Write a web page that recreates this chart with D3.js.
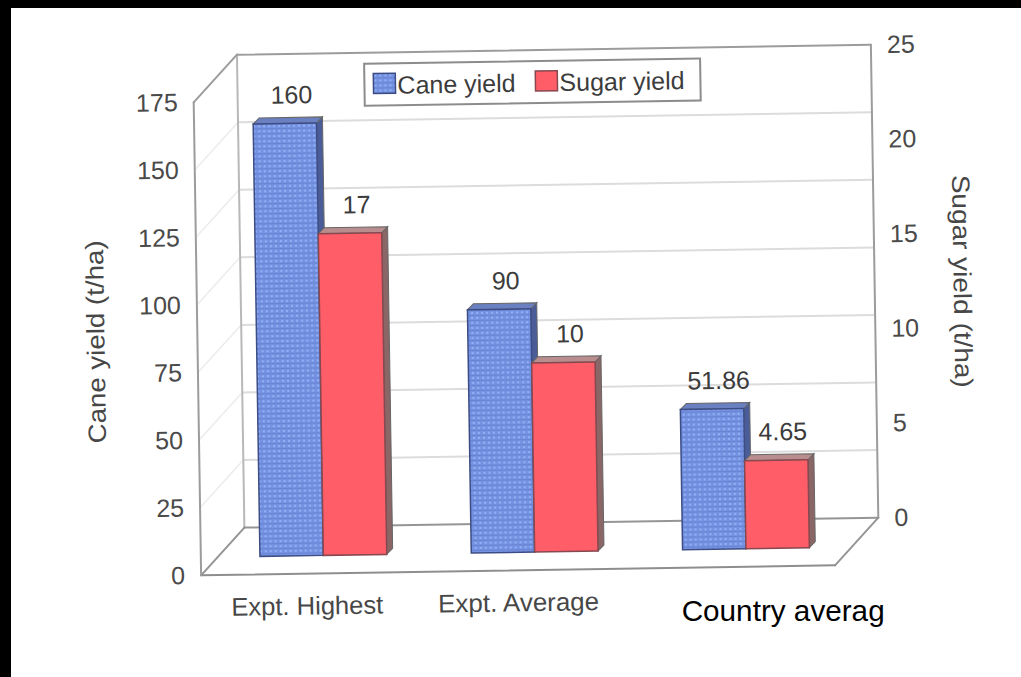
<!DOCTYPE html>
<html>
<head>
<meta charset="utf-8">
<script src="https://cdn.jsdelivr.net/npm/d3@7"></script>
<style>
  html, body { margin: 0; padding: 0; background: #fff; }
  svg { display: block; }
  text { font-family: "Liberation Sans", Arial, sans-serif; }
</style>
</head>
<body>
<svg id="chart" width="1021" height="677"></svg>
<script>
// ---- data ----
const categories = ["Expt. Highest", "Expt. Average", "Country averag"];
const seriesNames = ["Cane yield", "Sugar yield"];
const caneYield = [160, 90, 51.86];
const sugarYield = [17, 10, 4.65];
const caneTicks = [0, 25, 50, 75, 100, 125, 150, 175];
const sugarTicks = [0, 5, 10, 15, 20, 25];
const leftTitle = "Cane yield (t/ha)";
const rightTitle = "Sugar yield (t/ha)";

// ---- layout ----
const W = 1021, H = 677;
const svg = d3.select("#chart");

// heavy black frame on the top and left edges
svg.append("rect").attr("x", 0).attr("y", 0).attr("width", W).attr("height", 8).attr("fill", "#000");
svg.append("rect").attr("x", 0).attr("y", 0).attr("width", 11).attr("height", H).attr("fill", "#000");

const defs = svg.append("defs");
const pat = defs.append("pattern").attr("id", "caneFill")
  .attr("patternUnits", "userSpaceOnUse").attr("width", 5).attr("height", 5);
pat.append("rect").attr("width", 5).attr("height", 5).attr("fill", "#7592e2");
pat.append("rect").attr("x", 1).attr("y", 1).attr("width", 2).attr("height", 2).attr("fill", "#90b0f4");
pat.append("rect").attr("x", 0).attr("y", 4).attr("width", 5).attr("height", 1).attr("fill", "#6883d2");

// the whole 3-D box sits slightly tilted
const g = svg.append("g").attr("transform", "rotate(-0.9,537,310)");

const D = { dx: 44, dy: -47 };                       // floor depth vector
const F = { left: 197, right: 831, top: 97, bottom: 570 };  // front plane
const B = { left: F.left + D.dx, right: F.right + D.dx, top: F.top + D.dy, bottom: F.bottom + D.dy };

const yCane = d3.scaleLinear().domain([0, 175]).range([F.bottom, F.top]);
const ySugar = d3.scaleLinear().domain([0, 25]).range([F.bottom, F.top]);
const ySugarBack = d3.scaleLinear().domain([0, 25]).range([B.bottom, B.top]);
const x0 = d3.scaleBand().domain(categories).range([F.left, F.right]);
const x1 = d3.scaleBand().domain(seriesNames)
  .range([x0.bandwidth() * 0.2, x0.bandwidth() * 0.8]);

// walls and floor
const poly = pts => pts.map(p => p.join(",")).join(" ");
g.append("polygon").attr("points", poly([[B.left, B.top], [B.right, B.top], [B.right, B.bottom], [B.left, B.bottom]])).attr("fill", "#fff");
g.append("polygon").attr("points", poly([[F.left, F.top], [B.left, B.top], [B.left, B.bottom], [F.left, F.bottom]])).attr("fill", "#fff");
g.append("polygon").attr("points", poly([[F.left, F.bottom], [F.right, F.bottom], [B.right, B.bottom], [B.left, B.bottom]])).attr("fill", "#fff");

// gridlines on the back wall and the left wall
const inner = caneTicks.filter(v => v > 0 && v < 175);
g.selectAll("line.side-grid").data(inner).join("line").attr("class", "side-grid")
  .attr("x1", F.left).attr("y1", d => yCane(d))
  .attr("x2", B.left).attr("y2", d => yCane(d) + D.dy)
  .attr("stroke", "#ececec").attr("stroke-width", 1.5);
g.selectAll("line.back-grid").data(inner).join("line").attr("class", "back-grid")
  .attr("x1", B.left).attr("y1", d => yCane(d) + D.dy)
  .attr("x2", B.right).attr("y2", d => yCane(d) + D.dy)
  .attr("stroke", "#dcdcdc").attr("stroke-width", 2);

// box edges
const edges = [
  [[B.left, B.top], [B.left, B.bottom], "#b8b8b8"],
  [[F.left, F.top], [B.left, B.top], "#9c9c9c"],
  [[B.left, B.top], [B.right, B.top], "#9c9c9c"],
  [[B.right, B.top], [B.right, B.bottom], "#9c9c9c"],
  [[B.left, B.bottom], [B.right, B.bottom], "#959595"],
  [[F.left, F.bottom], [B.left, B.bottom], "#959595"],
  [[F.right, F.bottom], [B.right, B.bottom], "#959595"],
  [[F.left, F.bottom], [F.right, F.bottom], "#8e8e8e"],
  [[F.left, F.top], [F.left, F.bottom], "#9c9c9c"]
];
g.selectAll("line.edge").data(edges).join("line").attr("class", "edge")
  .attr("x1", d => d[0][0]).attr("y1", d => d[0][1])
  .attr("x2", d => d[1][0]).attr("y2", d => d[1][1])
  .attr("stroke", d => d[2]).attr("stroke-width", 2).attr("stroke-linecap", "round");

// axes
const axisL = g.append("g").attr("transform", `translate(${F.left},0)`)
  .call(d3.axisLeft(yCane).tickValues(caneTicks).tickSize(0).tickPadding(16));
const axisR = g.append("g").attr("transform", `translate(${B.right},0)`)
  .call(d3.axisRight(ySugarBack).tickValues(sugarTicks).tickSize(0).tickPadding(16));
[axisL, axisR].forEach(a => {
  a.select(".domain").remove();
  a.attr("font-size", null).attr("font-family", null);
  a.selectAll("text").attr("font-size", 25).attr("fill", "#4a4a4a");
});

// bars
const fb = 0.383;                 // position of the bar row inside the floor depth
const bd = { dx: 6, dy: -6 };     // bar thickness
const style = {
  "Cane yield": { front: "url(#caneFill)", top: "#6a80c0", side: "#4b5d99", stroke: "#3c4c84" },
  "Sugar yield": { front: "#ff5e69", top: "#b98d8d", side: "#8a6666", stroke: "#87484f" }
};
const bars = categories.flatMap((c, i) => [
  { cat: c, key: "Cane yield", value: caneYield[i], y: yCane },
  { cat: c, key: "Sugar yield", value: sugarYield[i], y: ySugar }
]).map(d => {
  const xl = x0(d.cat) + x1(d.key) + fb * D.dx;
  const xr = xl + x1.bandwidth();
  const yt = d.y(d.value) + fb * D.dy;
  const yb = d.y(0) + fb * D.dy;
  return Object.assign(d, { xl, xr, yt, yb });
});

const bg = g.selectAll("g.bar").data(bars).join("g").attr("class", "bar");
bg.append("polygon")
  .attr("points", d => poly([[d.xr, d.yt], [d.xr + bd.dx, d.yt + bd.dy], [d.xr + bd.dx, d.yb + bd.dy], [d.xr, d.yb]]))
  .attr("fill", d => style[d.key].side).attr("stroke", "#666").attr("stroke-width", 1);
bg.append("polygon")
  .attr("points", d => poly([[d.xl, d.yt], [d.xr, d.yt], [d.xr + bd.dx, d.yt + bd.dy], [d.xl + bd.dx, d.yt + bd.dy]]))
  .attr("fill", d => style[d.key].top).attr("stroke", "#666").attr("stroke-width", 1);
bg.append("rect")
  .attr("x", d => d.xl).attr("y", d => d.yt)
  .attr("width", d => d.xr - d.xl).attr("height", d => d.yb - d.yt)
  .attr("fill", d => style[d.key].front)
  .attr("stroke", d => style[d.key].stroke).attr("stroke-width", 1.5);

// value labels
g.selectAll("text.val").data(bars).join("text").attr("class", "val")
  .attr("x", d => (d.xl + d.xr) / 2 + bd.dx + 1)
  .attr("y", d => d.yt - 20)
  .attr("text-anchor", "middle").attr("font-size", 25).attr("fill", "#3c3c3c")
  .text(d => String(d.value));

// category labels
const catLen = { "Expt. Highest": 152, "Expt. Average": 161 };
g.selectAll("text.cat").data(categories.slice(0, 2)).join("text").attr("class", "cat")
  .attr("x", d => x0(d) + x0.bandwidth() / 2)
  .attr("y", 611)
  .attr("text-anchor", "middle").attr("font-size", 25.5).attr("fill", "#474747")
  .attr("textLength", d => catLen[d]).attr("lengthAdjust", "spacingAndGlyphs")
  .text(d => d);
const lastCat = categories[categories.length - 1];
svg.append("text")
  .attr("x", x0(lastCat) + 62).attr("y", 621)
  .attr("font-size", 29).attr("fill", "#000")
  .attr("textLength", 203).attr("lengthAdjust", "spacingAndGlyphs")
  .text(lastCat);

// axis titles
g.append("text")
  .attr("transform", "translate(104,335) rotate(-90)")
  .attr("text-anchor", "middle").attr("font-size", 25).attr("fill", "#474747")
  .attr("textLength", 203).attr("lengthAdjust", "spacingAndGlyphs")
  .text(leftTitle);
g.append("text")
  .attr("transform", "translate(954,288) rotate(90)")
  .attr("text-anchor", "middle").attr("font-size", 25).attr("fill", "#474747")
  .attr("textLength", 213).attr("lengthAdjust", "spacingAndGlyphs")
  .text(rightTitle);

// legend
const lg = g.append("g").attr("transform", "translate(368,61)");
lg.append("rect").attr("width", 336).attr("height", 42)
  .attr("fill", "#fff").attr("stroke", "#8c8c8c").attr("stroke-width", 2);
const items = lg.selectAll("g.item").data(seriesNames).join("g").attr("class", "item")
  .attr("transform", (d, i) => `translate(${9 + i * 162},0)`);
items.append("rect").attr("x", 0).attr("y", 10).attr("width", 22).attr("height", 20)
  .attr("fill", d => style[d].front).attr("stroke", d => style[d].stroke).attr("stroke-width", 1.5);
items.append("text").attr("x", 24).attr("y", 30.5)
  .attr("font-size", 25).attr("fill", "#3c3c3c").text(d => d);
</script>
</body>
</html>
